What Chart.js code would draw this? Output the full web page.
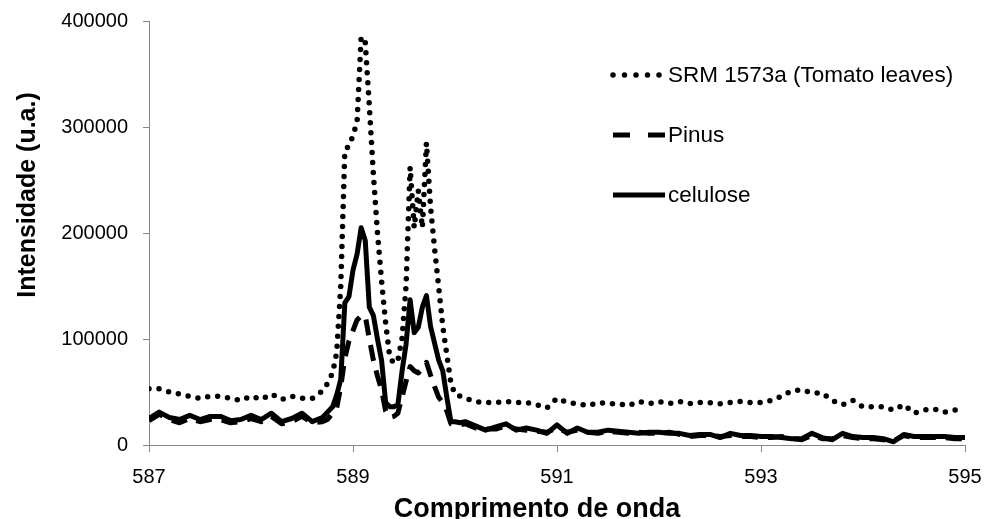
<!DOCTYPE html>
<html>
<head>
<meta charset="utf-8">
<script src="https://cdn.jsdelivr.net/npm/chart.js@4.4.1/dist/chart.umd.min.js"></script>
<style>
  html, body { margin: 0; padding: 0; background: #fff; }
  #wrap { width: 984px; height: 519px; position: relative; }
</style>
</head>
<body>
<div id="wrap"><canvas id="myChart"></canvas></div>
<script>
// comprimento de onda (nm)
const wavelengths = [
  587.0, 587.1, 587.2, 587.3, 587.4, 587.5, 587.6, 587.7, 587.8, 587.9,
  588.0, 588.1, 588.2, 588.3, 588.4, 588.5, 588.6, 588.7,
  588.75, 588.8, 588.84, 588.88, 588.92, 588.96, 589.0, 589.04, 589.08, 589.12,
  589.16, 589.2, 589.24, 589.28, 589.32, 589.36, 589.4, 589.44, 589.48, 589.52,
  589.56, 589.6, 589.64, 589.68, 589.72, 589.76, 589.8, 589.84, 589.88, 589.92,
  589.96, 590.0, 590.05,
  590.1, 590.2, 590.3, 590.4, 590.5, 590.6, 590.7, 590.8, 590.9,
  591.0, 591.1, 591.2, 591.3, 591.4, 591.5, 591.6, 591.7, 591.8, 591.9,
  592.0, 592.1, 592.2, 592.3, 592.4, 592.5, 592.6, 592.7, 592.8, 592.9,
  593.0, 593.1, 593.2, 593.3, 593.4, 593.5, 593.6, 593.7, 593.8, 593.9,
  594.0, 594.1, 594.2, 594.3, 594.4, 594.5, 594.6, 594.7, 594.8, 594.9,
  595.0
];

const srmTomato = [
  53000, 53000, 50000, 48000, 46000, 44000, 46000, 46000, 44000, 42000,
  46000, 43000, 48000, 43000, 46000, 44000, 44000, 51000,
  58000, 68000, 87000, 150000, 278000, 282000, 292000, 305000, 385000, 380000,
  320000, 255000, 200000, 155000, 115000, 83000, 77000, 80000, 100000, 150000,
  262000, 205000, 240000, 205000, 285000, 225000, 185000, 149000, 112000, 85000,
  58000, 48000, 46000,
  44000, 41000, 40000, 40000, 41000, 40000, 40000, 38000, 35000,
  44000, 40000, 39000, 37000, 40000, 39000, 39000, 37000, 41000, 39000,
  41000, 39000, 41000, 39000, 40000, 40000, 39000, 40000, 41000, 40000,
  40000, 42000, 46000, 51000, 52000, 49000, 49000, 42000, 38000, 42000,
  36000, 36000, 36000, 33000, 38000, 30000, 33000, 34000, 31000, 33000,
  33000
];

const pinus = [
  23000, 29000, 24000, 21000, 25000, 22000, 24000, 24000, 21000, 22000,
  25000, 22000, 27000, 20000, 22000, 27000, 21000, 22000,
  24000, 30000, 35000, 55000, 82000, 98000, 108000, 118000, 122000, 122000,
  100000, 80000, 65000, 52000, 32000, 26000, 27000, 30000, 45000, 60000,
  74000, 70000, 68000, 72000, 78000, 66000, 55000, 45000, 40000, 32000,
  20000, 19000, 19000,
  20000, 16000, 15000, 15000, 18000, 15000, 14000, 13000, 12000,
  16000, 12000, 14000, 12000, 11000, 13000, 12000, 11000, 12000, 11000,
  11000, 12000, 10000, 8000, 9000, 9000, 8000, 9000, 8000, 8000,
  7000, 7000, 8000, 6000, 5000, 9000, 6000, 6000, 9000, 7000,
  6000, 6000, 5000, 4000, 9000, 7000, 7000, 7000, 7000, 6000,
  6000
];

const celulose = [
  25000, 31000, 26000, 24000, 28000, 24000, 27000, 27000, 23000, 24000,
  28000, 24000, 30000, 22000, 25000, 30000, 22000, 26000,
  31000, 36000, 47000, 62000, 134000, 140000, 165000, 180000, 205000, 193000,
  130000, 122000, 100000, 80000, 40000, 36000, 36000, 38000, 69000, 95000,
  137000, 106000, 111000, 130000, 141000, 112000, 96000, 80000, 70000, 45000,
  22000, 22000, 21000,
  22000, 18000, 14000, 17000, 20000, 14000, 16000, 14000, 11000,
  19000, 11000, 16000, 12000, 12000, 14000, 13000, 12000, 11000, 12000,
  12000, 11000, 11000, 9000, 10000, 10000, 7000, 11000, 9000, 9000,
  8000, 8000, 7000, 6000, 6000, 11000, 7000, 5000, 11000, 8000,
  7000, 7000, 6000, 3000, 10000, 8000, 8000, 8000, 8000, 7000,
  7000
];

const xTicks = [587, 589, 591, 593, 595];
const yTicks = [0, 100000, 200000, 300000, 400000];

const xTitle = 'Comprimento de onda';
const yTitle = 'Intensidade (u.a.)';

const axisGray = '#868686';
const fontFamily = '"Liberation Sans", Arial, sans-serif';

function toPoints(values) {
  return values.map((v, i) => ({ x: wavelengths[i], y: v }));
}

// títulos dos eixos e legenda dentro da área do gráfico
const labelsPlugin = {
  id: 'labelsPlugin',
  afterDraw(chart) {
    const ctx = chart.ctx;
    ctx.save();
    ctx.fillStyle = '#000';

    // título do eixo x
    ctx.font = 'bold 27px ' + fontFamily;
    ctx.textAlign = 'center';
    ctx.textBaseline = 'alphabetic';
    ctx.fillText(xTitle, 537, 517);

    // título do eixo y (vertical)
    ctx.save();
    ctx.translate(35, 195);
    ctx.rotate(-Math.PI / 2);
    ctx.font = 'bold 25px ' + fontFamily;
    ctx.fillText(yTitle, 0, 0);
    ctx.restore();

    // legenda
    const rows = [75, 135, 195];
    const x0 = 613, x1 = 665, textX = 668;
    ctx.font = '22.5px ' + fontFamily;
    ctx.textAlign = 'left';
    ctx.textBaseline = 'middle';
    chart.data.datasets.forEach((ds, i) => {
      const y = rows[i];
      ctx.beginPath();
      ctx.strokeStyle = ds.borderColor;
      ctx.lineWidth = ds.borderWidth;
      ctx.lineCap = ds.borderCapStyle || 'butt';
      ctx.setLineDash(ds.legendDash || []);
      ctx.moveTo(x0, y);
      ctx.lineTo(x1, y);
      ctx.stroke();
      ctx.setLineDash([]);
      ctx.fillText(ds.label, textX, y + 1);
    });
    ctx.restore();
  }
};

const ctx = document.getElementById('myChart').getContext('2d');
new Chart(ctx, {
  type: 'line',
  data: {
    datasets: [
      {
        label: 'SRM 1573a (Tomato leaves)',
        data: toPoints(srmTomato),
        borderColor: '#000',
        borderWidth: 5.5,
        borderDash: [0, 10],
        legendDash: [0, 11.5],
        borderCapStyle: 'round',
        order: 2
      },
      {
        label: 'Pinus',
        data: toPoints(pinus),
        borderColor: '#000',
        borderWidth: 5,
        borderDash: [16, 10],
        legendDash: [17, 18],
        order: 1
      },
      {
        label: 'celulose',
        data: toPoints(celulose),
        borderColor: '#000',
        borderWidth: 5,
        order: 0
      }
    ]
  },
  options: {
    responsive: true,
    maintainAspectRatio: false,
    animation: false,
    elements: {
      point: { radius: 0 },
      line: { tension: 0, fill: false, borderJoinStyle: 'round' }
    },
    layout: { padding: { top: 21, right: 19, left: 0, bottom: 0 } },
    plugins: {
      legend: { display: false },
      tooltip: { enabled: false }
    },
    scales: {
      x: {
        type: 'linear',
        min: 587,
        max: 595,
        afterBuildTicks: (scale) => { scale.ticks = xTicks.map(v => ({ value: v })); },
        afterFit: (scale) => {
          scale.height = 74;
          scale.paddingLeft = 0;
          scale.paddingRight = 0;
        },
        ticks: {
          color: '#000',
          font: { family: fontFamily, size: 20 },
          padding: 13,
          maxRotation: 0,
          callback: (v) => String(v)
        },
        grid: {
          drawOnChartArea: false,
          drawTicks: true,
          tickLength: 7,
          color: axisGray
        },
        border: { color: axisGray, width: 1 }
      },
      y: {
        min: 0,
        max: 400000,
        afterBuildTicks: (scale) => { scale.ticks = yTicks.map(v => ({ value: v })); },
        afterFit: (scale) => {
          scale.width = 149;
          scale.paddingTop = 0;
          scale.paddingBottom = 0;
        },
        ticks: {
          color: '#000',
          font: { family: fontFamily, size: 20 },
          padding: 15,
          callback: (v) => String(v)
        },
        grid: {
          drawOnChartArea: false,
          drawTicks: true,
          tickLength: 6,
          color: axisGray
        },
        border: { color: axisGray, width: 1 }
      }
    }
  },
  plugins: [labelsPlugin]
});
</script>
</body>
</html>
